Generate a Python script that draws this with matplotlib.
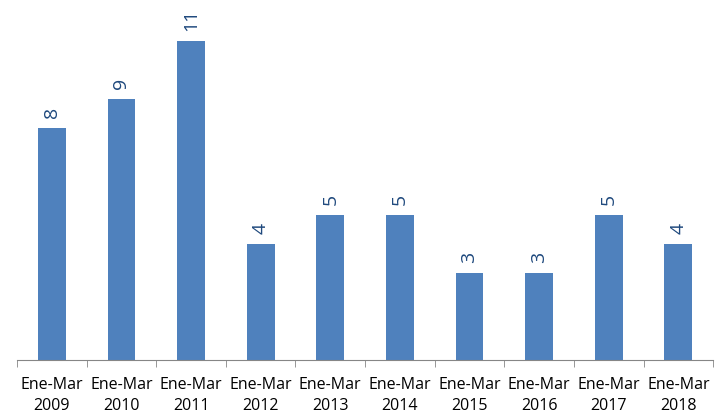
import matplotlib
matplotlib.use('Agg')
from matplotlib import pyplot as plt
import numpy as np

categories = ['Ene-Mar\n2009', 'Ene-Mar\n2010', 'Ene-Mar\n2011', 'Ene-Mar\n2012', 'Ene-Mar\n2013',
              'Ene-Mar\n2014', 'Ene-Mar\n2015', 'Ene-Mar\n2016', 'Ene-Mar\n2017', 'Ene-Mar\n2018']
values = [8, 9, 11, 4, 5, 5, 3, 3, 5, 4]

plt.rcParams['font.family'] = ['Open Sans', 'DejaVu Sans']

fig = plt.figure(figsize=(7.2, 4.2), dpi=100)
ax = fig.add_axes([0.0236, 0.1429, 0.967, 0.8571])

x = np.arange(len(values))
bars = ax.bar(x, values, width=0.4, color='#4F81BD')

for xi, v in zip(x, values):
    ax.annotate(str(v), (xi, v), xytext=(0, 7), textcoords='offset points',
                rotation=90, ha='center', va='bottom', fontsize=14, color='#1F497D')

ax.set_xlim(-0.5, len(values) - 0.5)
ax.set_ylim(0, 12.4)
ax.set_yticks([])
for s in ['top', 'right', 'left']:
    ax.spines[s].set_visible(False)
ax.spines['bottom'].set_color('#868686')

ax.set_xticks(x)
ax.set_xticklabels(categories, fontsize=11.5, linespacing=1.45)
ax.tick_params(axis='x', length=0, pad=12)
ax.set_xticks(np.arange(len(values) + 1) - 0.5, minor=True)
ax.tick_params(axis='x', which='minor', length=5, color='#868686', direction='out')

fig.savefig('out.png', dpi=100)
